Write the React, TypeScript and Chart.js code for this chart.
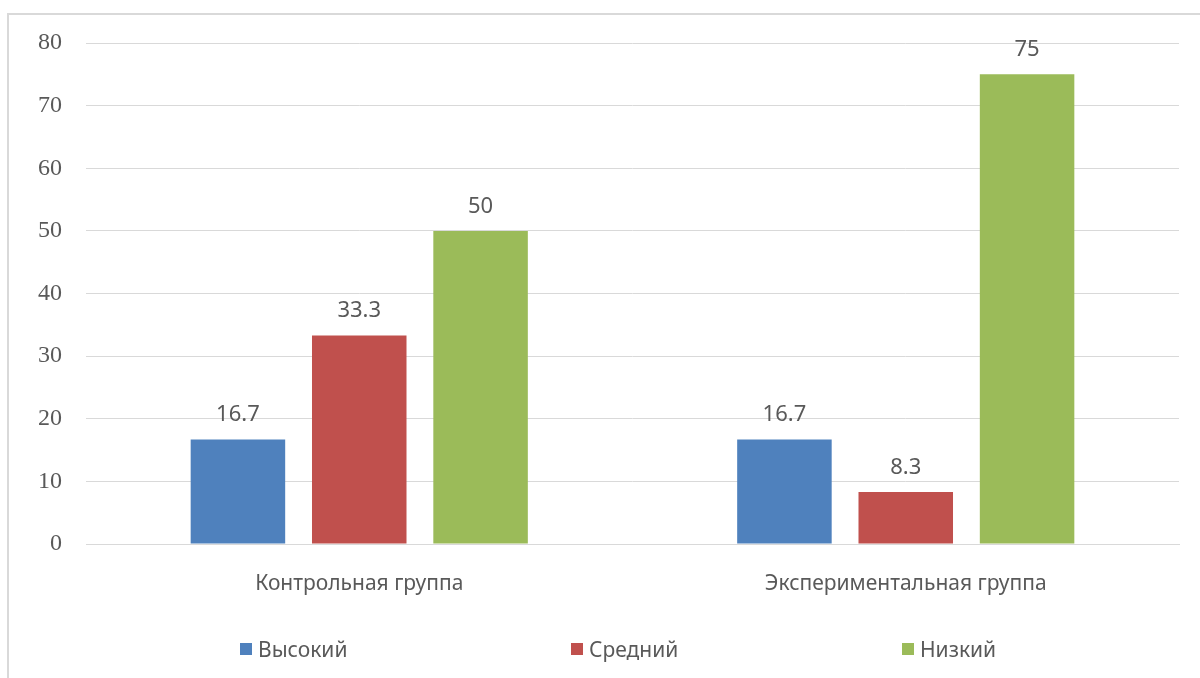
import React, { useEffect, useRef } from "react";
import { Chart, registerables } from "chart.js";

Chart.register(...registerables);

const categories = ["Контрольная группа", "Экспериментальная группа"];
const seriesNames = ["Высокий", "Средний", "Низкий"];
const highValues = [16.7, 16.7];
const midValues = [33.3, 8.3];
const lowValues = [50, 75];
const seriesColors = ["#4F81BD", "#C0504D", "#9BBB59"];
const yTickMin = 0;
const yTickMax = 80;
const yTickStep = 10;

const SANS = "'Noto Sans', 'Open Sans', sans-serif";
const SERIF = "'Liberation Serif', 'DejaVu Serif', serif";
const TEXT = "#595959";

const valueLabels = {
  id: "valueLabels",
  afterDatasetsDraw(chart: any) {
    const ctx = chart.ctx;
    ctx.save();
    ctx.font = `22px ${SANS}`;
    ctx.fillStyle = TEXT;
    ctx.textAlign = "center";
    ctx.textBaseline = "alphabetic";
    chart.data.datasets.forEach((ds: any, i: number) => {
      const meta = chart.getDatasetMeta(i);
      meta.data.forEach((bar: any, j: number) => {
        ctx.fillText(String(ds.data[j]), bar.x, bar.y - 18);
      });
    });
    ctx.restore();
  },
};

export default function App() {
  const ref = useRef<HTMLCanvasElement | null>(null);
  useEffect(() => {
    if (!ref.current) return;
    const allSeries = [highValues, midValues, lowValues];
    const chart = new Chart(ref.current, {
      type: "bar",
      data: {
        labels: categories,
        datasets: allSeries.map((d, i) => ({
          label: seriesNames[i],
          data: d,
          backgroundColor: seriesColors[i],
          borderWidth: 0,
          categoryPercentage: 0.666,
          barPercentage: 0.779,
        })),
      },
      options: {
        responsive: false,
        animation: false,
        layout: { padding: { top: 43, right: 21, bottom: 0, left: 0 } },
        plugins: {
          legend: { display: false },
          tooltip: { enabled: false },
        },
        scales: {
          x: {
            grid: { display: false, drawTicks: false },
            border: { display: true, color: "#D9D9D9", width: 1 },
            ticks: {
              color: TEXT,
              font: { family: SANS, size: 21 },
              padding: 27,
            },
            afterFit(scale: any) {
              scale.height = 134;
            },
          },
          y: {
            min: yTickMin,
            max: yTickMax,
            grid: { color: "#D9D9D9", drawTicks: false, lineWidth: 1 },
            border: { display: false },
            ticks: {
              stepSize: yTickStep,
              color: TEXT,
              font: { family: SERIF, size: 24 },
              padding: 24,
            },
            afterFit(scale: any) {
              scale.width = 86;
            },
          },
        },
      },
      plugins: [valueLabels],
    });
    return () => chart.destroy();
  }, []);

  return (
    <div
      style={{
        position: "fixed",
        left: 0,
        top: 0,
        width: 1200,
        height: 678,
        background: "#fff",
        overflow: "hidden",
      }}
    >
      <div
        style={{
          position: "absolute",
          left: 7,
          top: 13,
          width: 1220,
          height: 700,
          border: "2px solid #D9D9D9",
          boxSizing: "border-box",
        }}
      />
      <canvas
        ref={ref}
        width={1200}
        height={678}
        style={{ position: "absolute", left: 0, top: 0, width: 1200, height: 678 }}
      />
      <div
        style={{
          position: "absolute",
          left: 240,
          top: 635,
          display: "flex",
          fontFamily: SANS,
          fontSize: 21,
          color: TEXT,
          lineHeight: "28px",
        }}
      >
        {seriesNames.map((n, i) => (
          <div key={n} style={{ width: 331, display: "flex", alignItems: "center" }}>
            <span
              style={{
                display: "inline-block",
                width: 12,
                height: 12,
                background: seriesColors[i],
                marginRight: 6,
              }}
            />
            <span>{n}</span>
          </div>
        ))}
      </div>
    </div>
  );
}
